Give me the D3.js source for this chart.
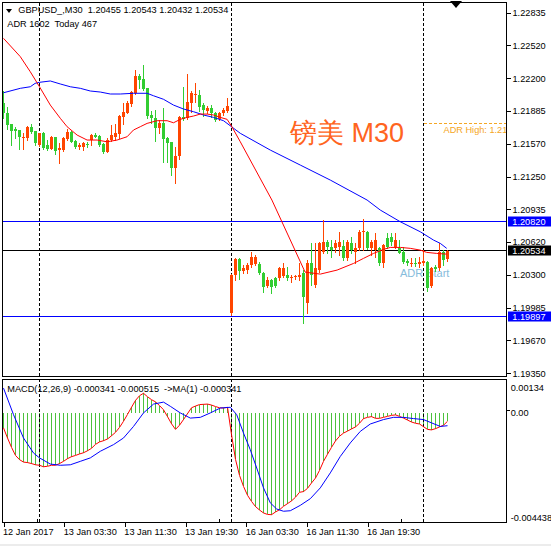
<!DOCTYPE html>
<html><head><meta charset="utf-8">
<script src="https://cdn.jsdelivr.net/npm/d3@7"></script>
<style>
body{margin:0;background:#fff}
text{font-family:"Liberation Sans",Arial,sans-serif}
</style>
</head><body>
<svg id="c" width="551" height="546"></svg>
<script>
// ---------- DATA ----------
const opens = [1.21960,1.21863,1.21757,1.21708,1.21702,1.21628,1.21628,1.21731,1.21692,1.21557,
1.21676,1.21557,1.21518,1.21638,1.21509,1.21509,1.21612,1.21686,1.21596,1.21535,
1.21541,1.21567,1.21605,1.21657,1.21644,1.21567,1.21493,1.21605,1.21631,1.21663,
1.21831,1.21870,1.21953,1.22056,1.22224,1.22191,1.22105,1.21847,1.21815,1.21718,
1.21766,1.21622,1.21583,1.21338,1.21451,1.21824,1.21815,1.21966,1.22037,1.22040,
1.21943,1.21889,1.21911,1.21863,1.21808,1.21863,1.21886,
1.19936,1.20299,1.20451,1.20341,1.20348,1.20396,1.20406,1.20406,1.20322,1.20193,
1.20251,1.20267,1.20267,1.20290,1.20299,1.20267,1.20277,1.20283,1.20316,1.20026,
1.20412,1.20203,1.20348,1.20525,1.20621,1.20573,1.20557,1.20573,1.20580,1.20460,
1.20605,1.20525,1.20557,1.20712,1.20718,1.20557,1.20541,1.20557,1.20412,1.20654,
1.20670,1.20573,1.20557,1.20525,1.20438,1.20406,1.20419,1.20406,1.20412,1.20428,
1.20193,1.20380,1.20364,1.20525,1.20455];
const highs = [1.22082,1.21921,1.21757,1.21728,1.21702,1.21670,1.21741,1.21757,1.21692,1.21676,
1.21683,1.21605,1.21644,1.21638,1.21573,1.21638,1.21712,1.21692,1.21605,1.21573,
1.21589,1.21589,1.21663,1.21670,1.21654,1.21573,1.21622,1.21750,1.21760,1.21844,
1.21966,1.21985,1.22079,1.22282,1.22243,1.22330,1.22105,1.21889,1.21895,1.21799,
1.21911,1.21638,1.21589,1.21541,1.21837,1.22121,1.22243,1.22082,1.22153,1.22088,
1.21960,1.21934,1.21943,1.21873,1.21879,1.21911,1.22008,
1.20309,1.20460,1.20460,1.20396,1.20412,1.20525,1.20493,1.20428,1.20332,1.20283,
1.20260,1.20277,1.20380,1.20412,1.20380,1.20299,1.20299,1.20412,1.20348,1.20444,
1.20605,1.20605,1.20621,1.20831,1.20638,1.20638,1.20638,1.20718,1.20638,1.20638,
1.20670,1.20605,1.20734,1.20837,1.20728,1.20638,1.20702,1.20573,1.20596,1.20702,
1.20702,1.20702,1.20638,1.20573,1.20451,1.20460,1.20460,1.20470,1.20541,1.20438,
1.20380,1.20396,1.20612,1.20541,1.20543];
const lows = [1.21815,1.21708,1.21557,1.21622,1.21515,1.21515,1.21605,1.21670,1.21557,1.21547,
1.21518,1.21509,1.21515,1.21467,1.21386,1.21502,1.21605,1.21583,1.21525,1.21515,
1.21509,1.21541,1.21557,1.21631,1.21551,1.21483,1.21486,1.21599,1.21605,1.21622,
1.21757,1.21863,1.21934,1.22047,1.22105,1.22088,1.21815,1.21773,1.21599,1.21676,
1.21396,1.21396,1.21267,1.21193,1.21419,1.21799,1.21805,1.21879,1.21976,1.21889,
1.21837,1.21863,1.21824,1.21789,1.21799,1.21847,1.21879,
1.19913,1.20251,1.20260,1.20316,1.20316,1.20380,1.20396,1.20309,1.20138,1.20180,
1.20129,1.20187,1.20251,1.20277,1.20251,1.20235,1.20260,1.20251,1.19839,1.19936,
1.20203,1.20180,1.20332,1.20509,1.20509,1.20477,1.20525,1.20493,1.20444,1.20444,
1.20509,1.20412,1.20541,1.20541,1.20547,1.20493,1.20477,1.20396,1.20380,1.20557,
1.20589,1.20557,1.20509,1.20412,1.20396,1.20386,1.20386,1.20380,1.20396,1.20148,
1.20180,1.20341,1.20348,1.20396,1.20432];
const closes = [1.21863,1.21750,1.21696,1.21696,1.21631,1.21638,1.21731,1.21686,1.21580,1.21670,
1.21525,1.21518,1.21638,1.21502,1.21525,1.21628,1.21686,1.21589,1.21535,1.21554,
1.21573,1.21557,1.21654,1.21638,1.21557,1.21486,1.21605,1.21654,1.21676,1.21837,
1.21879,1.21966,1.22069,1.22224,1.22185,1.22095,1.21837,1.21815,1.21718,1.21766,
1.21615,1.21580,1.21338,1.21451,1.21824,1.21805,1.21976,1.22056,1.22050,1.21927,
1.21895,1.21918,1.21863,1.21799,1.21870,1.21895,1.21934,
1.20299,1.20451,1.20341,1.20364,1.20396,1.20477,1.20477,1.20316,1.20187,1.20251,
1.20180,1.20193,1.20370,1.20370,1.20267,1.20283,1.20290,1.20299,1.20090,1.20412,
1.20299,1.20364,1.20612,1.20621,1.20573,1.20541,1.20612,1.20621,1.20460,1.20621,
1.20541,1.20557,1.20718,1.20728,1.20557,1.20621,1.20638,1.20412,1.20589,1.20573,
1.20621,1.20638,1.20515,1.20428,1.20412,1.20419,1.20406,1.20428,1.20438,1.20171,
1.20364,1.20354,1.20525,1.20444,1.20534];

// moving averages: [bar, value]
const maFast = [[0,1.22587],[4.2,1.22410],[6.7,1.22264],[9,1.22119],[11.7,1.21942],[14.2,1.21814],
[15.9,1.21733],[18.4,1.21652],[20.9,1.21604],[23.4,1.21604],[25.9,1.21587],[28.4,1.21604],
[30.9,1.21636],[32.5,1.21701],[34.2,1.21733],[35.9,1.21765],[38.4,1.21791],[40.9,1.21791],
[42.5,1.21771],[44.2,1.21804],[45.9,1.21823],[47.5,1.21836],[49.2,1.21855],[50.9,1.21855],
[52.5,1.21846],[54.2,1.21823],[55.9,1.21804],[57,1.21739],[59.2,1.21587],[67.1,1.21024],
[75.4,1.20327],[79.2,1.20308],[83.4,1.20347],[87.5,1.20411],[90,1.20460],[92.5,1.20508],
[95,1.20547],[96.7,1.20566],[99.2,1.20566],[101.7,1.20557],[104.2,1.20540],[105.8,1.20518],
[108.3,1.20508],[110.8,1.20501]];
const maSlow = [[0,1.22061],[4.2,1.22104],[6.7,1.22119],[7.9,1.22152],[9,1.22162],[11.7,1.22175],
[14.2,1.22146],[16.7,1.22119],[19.2,1.22104],[21.7,1.22078],[24.2,1.22068],[26.7,1.22049],
[29.2,1.22049],[32.5,1.22056],[35.9,1.22056],[37.5,1.22032],[40,1.21998],[42.5,1.21942],
[45,1.21904],[47.5,1.21878],[50,1.21846],[52.5,1.21823],[55,1.21791],[57,1.21733],
[59.2,1.21669],[66.7,1.21507],[74.2,1.21362],[81.7,1.21217],[90.9,1.21024],[94.2,1.20927],
[99.2,1.20814],[104.2,1.20717],[107.5,1.20637],[109.2,1.20605],[110.8,1.20557]];

// MACD main (histogram + red line), one per bar
const macdMain = [-0.00061,-0.00102,-0.00140,-0.00173,-0.00190,-0.00200,-0.00202,-0.00206,-0.00211,-0.00213,
-0.00219,-0.00217,-0.00213,-0.00213,-0.00206,-0.00197,-0.00186,-0.00178,-0.00173,-0.00167,
-0.00162,-0.00154,-0.00144,-0.00128,-0.00118,-0.00113,-0.00106,-0.00093,-0.00079,-0.00059,
-0.00034,-0.00006,0.00023,0.00051,0.00070,0.00080,0.00066,0.00054,0.00045,0.00030,
0.00013,-0.00015,-0.00044,-0.00067,-0.00050,-0.00027,-0.00003,0.00021,0.00028,0.00034,
0.00035,0.00036,0.00032,0.00026,0.00021,0.00020,0.00023,-0.00088,-0.00189,-0.00254,
-0.00299,-0.00335,-0.00360,-0.00381,-0.00395,-0.00407,-0.00413,-0.00414,-0.00403,-0.00394,
-0.00380,-0.00369,-0.00358,-0.00343,-0.00323,-0.00320,-0.00307,-0.00285,-0.00265,-0.00234,
-0.00197,-0.00168,-0.00140,-0.00114,-0.00095,-0.00082,-0.00074,-0.00065,-0.00057,-0.00042,
-0.00023,-0.00018,-0.00015,-0.00022,-0.00022,-0.00018,-0.00014,-0.00010,-0.00008,-0.00014,
-0.00021,-0.00029,-0.00037,-0.00042,-0.00045,-0.00056,-0.00067,-0.00069,-0.00064,-0.00057,
-0.00050,-0.00034];
const macdSignal = [[0,0.00101],[2.5,-0.00007],[5,-0.00102],[7.5,-0.00163],[9,-0.00183],[11.7,-0.00208],
[14.2,-0.00213],[16.7,-0.00211],[19.2,-0.00197],[21.7,-0.00183],[24.2,-0.00156],[27.5,-0.00129],
[30,-0.00102],[32.5,-0.00055],[35,0.00000],[37.5,0.00036],[40,0.00044],[41.7,0.00027],
[44.2,0.00000],[46.7,-0.00021],[49.2,-0.00018],[51.7,0.00000],[54.2,0.00020],[56.7,0.00023],
[58.3,-0.00007],[60,-0.00082],[61.7,-0.00150],[63.3,-0.00224],[65,-0.00305],[66.7,-0.00366],
[68.3,-0.00391],[70,-0.00400],[71.7,-0.00398],[74.2,-0.00376],[76.7,-0.00349],[79.2,-0.00305],
[81.7,-0.00244],[84.2,-0.00177],[86.7,-0.00122],[89.2,-0.00075],[91.7,-0.00045],[95,-0.00027],
[97.5,-0.00018],[100,-0.00018],[102.5,-0.00023],[105,-0.00027],[107.1,-0.00041],[109.2,-0.00055],
[111,-0.00052]];

const priceTicks = [1.22835,1.22520,1.22200,1.21885,1.21570,1.21250,1.20935,1.20620,1.20300,1.19985,1.19670,1.19350];
const levels = [{v:1.20820,c:"#0000ff"},{v:1.20534,c:"#000000"},{v:1.19897,c:"#0000ff"}];
const xTickPos = [0,15.17,30.33,45.5,60.67,75.83,91];
const xTickLabels = ["12 Jan 2017","13 Jan 03:30","13 Jan 11:30","13 Jan 19:30","16 Jan 03:30","16 Jan 11:30","16 Jan 19:30"];
const xMinorTicks = [8.4,53.9,99.6];
const daySeparators = [9,57,105];
const adrHigh = 1.21763;
const macdRange = [-0.004438, 0.00134];

// ---------- LAYOUT ----------
const L=2, R=506.5, MT=2.5, MB=376, ST=379, SB=522.5;
const FS=9.2;
const svg = d3.select("#c");
svg.append("rect").attr("width",551).attr("height",546).attr("fill","#fff");
svg.append("rect").attr("x",0).attr("y",544).attr("width",551).attr("height",2).attr("fill","#ececec");

const x = d3.scaleLinear().domain([0,111]).range([3.5,447.5]);
const y = d3.scaleLinear().domain([1.19350,1.22835]).range([373.2,12.7]);
const ym = d3.scaleLinear().domain(macdRange).range([522,380]);
const crisp = v => Math.round(v-0.5)+0.5;

const defs = svg.append("defs");
defs.append("clipPath").attr("id","cm").append("rect").attr("x",L).attr("y",MT).attr("width",R-L).attr("height",MB-MT);
defs.append("clipPath").attr("id","cs").append("rect").attr("x",L).attr("y",ST).attr("width",R-L).attr("height",SB-ST);

// ---------- MAIN PANEL ----------
const gm = svg.append("g").attr("clip-path","url(#cm)");

gm.append("text").attr("x",x(99.1)).attr("y",y(1.20282)).attr("font-size",11)
  .attr("fill","#86bcdc").text("ADR Start");

gm.append("text").attr("x",290).attr("y",141.7).attr("font-size",27)
  .attr("font-family","'Liberation Sans','Noto Sans CJK SC',sans-serif")
  .attr("fill","#ff6420").text("镑美 M30");

levels.forEach(l=>{
  gm.append("line").attr("x1",L).attr("x2",R).attr("y1",crisp(y(l.v))).attr("y2",crisp(y(l.v)))
    .attr("stroke",l.c).attr("stroke-width",1).attr("shape-rendering","crispEdges");
});

daySeparators.forEach(d=>{
  gm.append("line").attr("x1",x(d)).attr("x2",x(d)).attr("y1",MT).attr("y2",MB)
    .attr("stroke","#000").attr("stroke-dasharray","3,2").attr("shape-rendering","crispEdges");
});

gm.append("line").attr("x1",x(daySeparators[2])).attr("x2",R).attr("y1",crisp(y(adrHigh))).attr("y2",crisp(y(adrHigh)))
  .attr("stroke","#f5a623").attr("stroke-dasharray","3,2").attr("shape-rendering","crispEdges");
gm.append("text").attr("x",x(110)).attr("y",crisp(y(adrHigh))+9.5).attr("font-size",FS)
  .attr("fill","#f5a623").text("ADR High: 1.21763");

const cands = opens.map((o,i)=>({i,o,h:highs[i],l:lows[i],c:closes[i]}));
const up = "#ff4500", dn = "#32cd32";
const cg = gm.append("g").attr("shape-rendering","crispEdges");
cg.selectAll("line.w").data(cands).join("line")
  .attr("x1",d=>x(d.i)).attr("x2",d=>x(d.i))
  .attr("y1",d=>Math.round(y(d.h))).attr("y2",d=>Math.round(y(d.l))+1)
  .attr("stroke",d=>d.c>=d.o?up:dn);
cg.selectAll("rect.b").data(cands).join("rect")
  .attr("x",d=>x(d.i)-1.5).attr("width",3)
  .attr("y",d=>Math.round(y(Math.max(d.o,d.c))))
  .attr("height",d=>Math.max(1,Math.round(y(Math.min(d.o,d.c)))-Math.round(y(Math.max(d.o,d.c)))))
  .attr("fill",d=>d.c>=d.o?up:dn);

const ln = d3.line().x(d=>x(d[0])).y(d=>y(d[1]));
gm.append("path").attr("d",ln(maSlow)).attr("fill","none").attr("stroke","#0000ff").attr("stroke-width",1);
gm.append("path").attr("d",ln(maFast)).attr("fill","none").attr("stroke","#ff0000").attr("stroke-width",1);

// header
svg.append("path").attr("d","M6,9L12,9L9,13Z").attr("fill","#000");
svg.append("text").attr("x",18.3).attr("y",13.3).attr("font-size",FS)
  .text("GBPUSD_,M30  1.20455 1.20543 1.20432 1.20534").attr("xml:space","preserve");
svg.append("text").attr("x",7.3).attr("y",27.3).attr("font-size",FS).text("ADR 1602  Today 467").attr("xml:space","preserve");
svg.append("path").attr("d","M450,1L462,1L456,8Z").attr("fill","#000");

// main border
svg.append("rect").attr("x",L).attr("y",MT).attr("width",R-L).attr("height",MB-MT)
  .attr("fill","none").attr("stroke","#000").attr("shape-rendering","crispEdges");

// price axis
const ay = d3.axisRight(y).tickValues(priceTicks).tickFormat(d3.format(".5f")).tickSize(4).tickPadding(2);
const gy = svg.append("g").attr("transform",`translate(${R},0)`).call(ay);
gy.select(".domain").remove();
gy.selectAll("line").attr("stroke","#000").attr("shape-rendering","crispEdges");
gy.selectAll("text").attr("font-size",FS).attr("font-family","'Liberation Sans',Arial,sans-serif").attr("fill","#000");

levels.forEach(l=>{
  const yy = crisp(y(l.v));
  svg.append("rect").attr("x",508).attr("y",yy-5).attr("width",43).attr("height",10).attr("fill",l.c);
  svg.append("text").attr("x",512.3).attr("y",yy+3.3).attr("font-size",FS).attr("fill","#fff").text(d3.format(".5f")(l.v));
});

// ---------- MACD PANEL ----------
const gs = svg.append("g").attr("clip-path","url(#cs)");
gs.selectAll("line.h").data(macdMain).join("line")
  .attr("x1",(d,i)=>x(i)).attr("x2",(d,i)=>x(i))
  .attr("y1",ym(0)).attr("y2",d=>ym(d))
  .attr("stroke","#4cc23c").attr("shape-rendering","crispEdges");
daySeparators.forEach(d=>{
  gs.append("line").attr("x1",x(d)).attr("x2",x(d)).attr("y1",ST).attr("y2",SB)
    .attr("stroke","#000").attr("stroke-dasharray","3,2").attr("shape-rendering","crispEdges");
});
gs.append("path").attr("d",d3.line().x((d,i)=>x(i)).y(d=>ym(d))(macdMain))
  .attr("fill","none").attr("stroke","#ff0000");
gs.append("path").attr("d",d3.line().x(d=>x(d[0])).y(d=>ym(d[1]))(macdSignal))
  .attr("fill","none").attr("stroke","#0000ff");
svg.append("text").attr("x",7.3).attr("y",391.7).attr("font-size",FS).attr("xml:space","preserve")
  .text("MACD(12,26,9) -0.000341 -0.000515  ->MA(1) -0.000341");
svg.append("rect").attr("x",L).attr("y",ST).attr("width",R-L).attr("height",SB-ST)
  .attr("fill","none").attr("stroke","#000").attr("shape-rendering","crispEdges");

// MACD scale labels
svg.append("text").attr("x",510.7).attr("y",ym(macdRange[1])+10.5).attr("font-size",FS).text("0.00134");
svg.append("line").attr("x1",R).attr("x2",R+3).attr("y1",crisp(ym(0))-2).attr("y2",crisp(ym(0))-2).attr("stroke","#000").attr("shape-rendering","crispEdges");
svg.append("text").attr("x",510.7).attr("y",ym(0)+3.5).attr("font-size",FS).text("0.00");
svg.append("text").attr("x",510.7).attr("y",ym(macdRange[0])-1).attr("font-size",FS).text("-0.004438");

// ---------- TIME AXIS ----------
const ax = d3.axisBottom(x).tickValues(xTickPos).tickFormat((d,i)=>xTickLabels[i]).tickSize(4).tickPadding(2);
const gx = svg.append("g").attr("transform",`translate(0,${SB})`).call(ax);
gx.select(".domain").remove();
gx.selectAll(".tick line").attr("shape-rendering","crispEdges");
gx.selectAll("text").attr("text-anchor","start").attr("dx",-1).attr("dy",0).attr("y",12.5)
  .attr("font-size",FS).attr("font-family","'Liberation Sans',Arial,sans-serif").attr("fill","#000");
svg.selectAll("line.mt").data(xMinorTicks).join("line")
  .attr("x1",d=>crisp(x(d))).attr("x2",d=>crisp(x(d))).attr("y1",SB-4).attr("y2",SB)
  .attr("stroke","#000").attr("shape-rendering","crispEdges");
</script>
</body></html>
